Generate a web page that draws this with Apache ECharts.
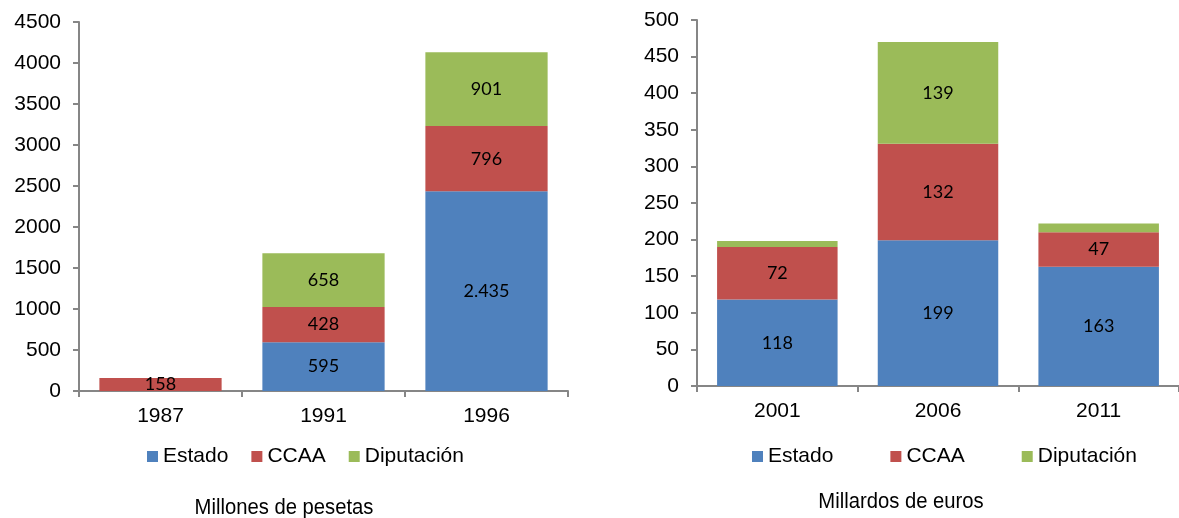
<!DOCTYPE html>
<html>
<head>
<meta charset="utf-8">
<script src="https://cdn.jsdelivr.net/npm/echarts@6/dist/echarts.min.js"></script>
<style>
html,body{margin:0;padding:0;background:#fff;}
#c{width:1179px;height:518px;}
</style>
</head>
<body>
<div id="c"></div>
<script>
// Left panel (Millones de pesetas)
var catsLeft = ['1987', '1991', '1996'];
var estadoLeft = [0, 595, 2435];
var ccaaLeft = [158, 428, 796];
var diputLeft = [0, 658, 901];
var yTicksLeft = {min: 0, max: 4500, interval: 500};

// Right panel (Millardos de euros)
var catsRight = ['2001', '2006', '2011'];
var estadoRight = [118, 199, 163];
var ccaaRight = [72, 132, 47];
var diputRight = [8, 139, 12];
var yTicksRight = {min: 0, max: 500, interval: 50};

var seriesNames = ['Estado', 'CCAA', 'Diputación'];
var colors = ['#4F81BD', '#C0504D', '#9BBB59'];
var titleLeft = 'Millones de pesetas';
var titleRight = 'Millardos de euros';

function fmt(v) {
  return String(v).replace(/\B(?=(\d{3})+(?!\d))/g, '.');
}
function labelFmt(p) {
  return p.value >= 20 ? fmt(p.value) : '';
}

var axisFont = {fontFamily: '"Liberation Sans", Arial, sans-serif', fontSize: 21, color: '#000'};
var axisLineStyle = {color: '#868686', width: 2};

function xAx(idx, cats) {
  return {
    type: 'category', gridIndex: idx, data: cats,
    axisLine: {show: true, lineStyle: axisLineStyle},
    axisTick: {show: true, length: 6, lineStyle: axisLineStyle},
    axisLabel: Object.assign({margin: 15}, axisFont),
    splitLine: {show: false}
  };
}
function yAx(idx, t) {
  return {
    type: 'value', gridIndex: idx, min: t.min, max: t.max, interval: t.interval,
    axisLine: {show: true, lineStyle: axisLineStyle},
    axisTick: {show: true, length: 6, lineStyle: axisLineStyle},
    axisLabel: Object.assign({margin: 18, formatter: function (v) { return String(v); }}, axisFont),
    splitLine: {show: false}
  };
}
function bar(name, data, idx, color, stack) {
  return {
    name: name, type: 'bar', stack: stack, data: data,
    xAxisIndex: idx, yAxisIndex: idx,
    barCategoryGap: '25%',
    itemStyle: {color: color},
    label: {show: true, position: 'inside', formatter: labelFmt,
            fontFamily: 'Lato, "Open Sans", sans-serif', fontSize: 18, color: '#000'}
  };
}

var legendText = {fontFamily: '"Liberation Sans", Arial, sans-serif', fontSize: 21, color: '#000'};
var titleFont = '22px "Liberation Sans", Arial, sans-serif';

var option = {
  animation: false,
  backgroundColor: '#fff',
  grid: [
    {left: 79, top: 22, width: 489, height: 369},
    {left: 697, top: 20, width: 492, height: 366}
  ],
  xAxis: [xAx(0, catsLeft), xAx(1, catsRight)],
  yAxis: [yAx(0, yTicksLeft), yAx(1, yTicksRight)],
  legend: [
    {data: seriesNames, left: 147, top: 446, itemWidth: 11, itemHeight: 11, itemGap: 23,
     icon: 'rect', textStyle: legendText, padding: 0},
    {data: seriesNames, left: 752, top: 446, itemWidth: 11, itemHeight: 11, itemGap: 57,
     icon: 'rect', textStyle: legendText, padding: 0}
  ],
  graphic: [
    {type: 'text', x: 284, y: 508, scaleX: 0.92,
     style: {text: titleLeft, font: titleFont, fill: '#000', textAlign: 'center', textVerticalAlign: 'middle'}},
    {type: 'text', x: 901, y: 502, scaleX: 0.92,
     style: {text: titleRight, font: titleFont, fill: '#000', textAlign: 'center', textVerticalAlign: 'middle'}}
  ],
  series: [
    bar(seriesNames[0], estadoLeft, 0, colors[0], 'L'),
    bar(seriesNames[1], ccaaLeft, 0, colors[1], 'L'),
    bar(seriesNames[2], diputLeft, 0, colors[2], 'L'),
    bar(seriesNames[0], estadoRight, 1, colors[0], 'R'),
    bar(seriesNames[1], ccaaRight, 1, colors[1], 'R'),
    bar(seriesNames[2], diputRight, 1, colors[2], 'R')
  ]
};

var chart = echarts.init(document.getElementById('c'), null, {renderer: 'canvas'});
chart.setOption(option);
</script>
</body>
</html>
